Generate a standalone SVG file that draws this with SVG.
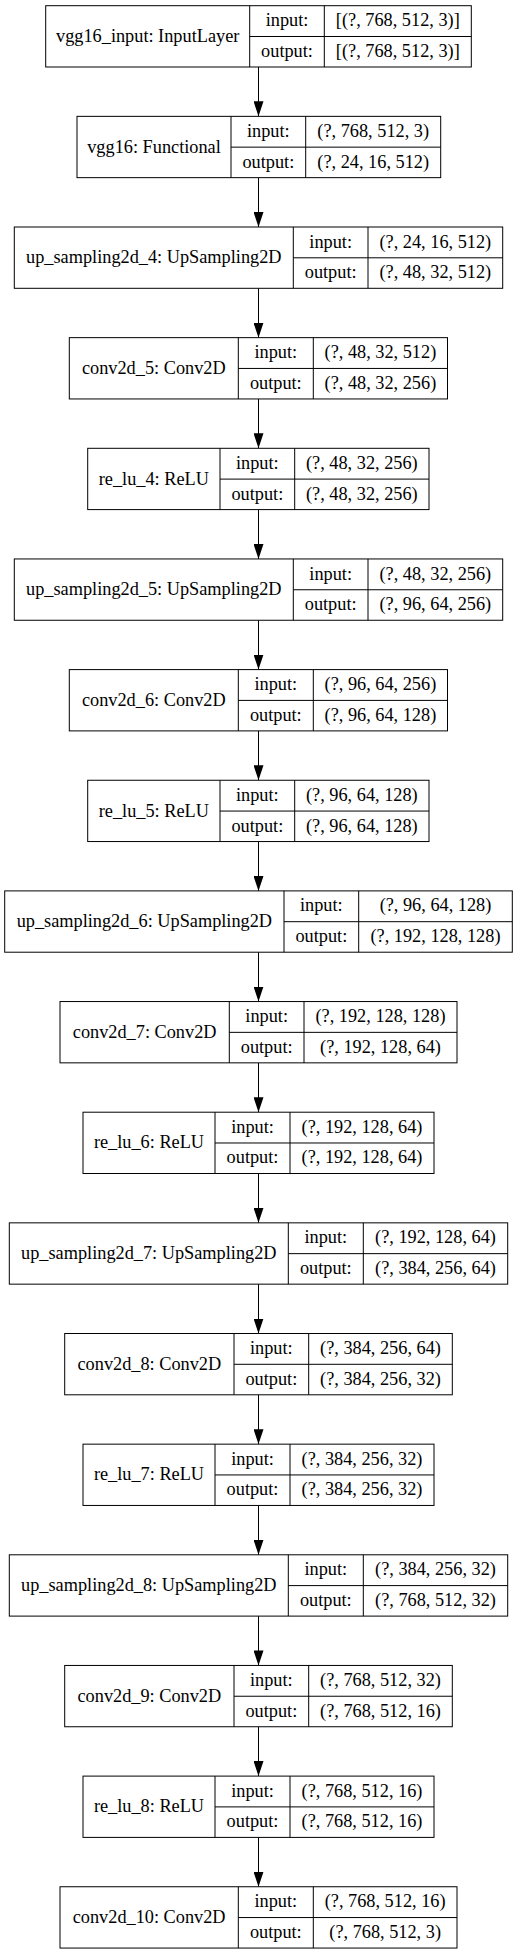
<svg xmlns="http://www.w3.org/2000/svg" width="517" height="1955" viewBox="0 0 517 1955">
<style>
.bg{fill:#fff}
.box{fill:#fff;stroke:#000;stroke-width:1}
.sep{stroke:#000;stroke-width:1;fill:none}
.edge{stroke:#000;stroke-width:1;fill:none;marker-end:url(#arr)}
text{font-family:'Liberation Serif','Times New Roman','DejaVu Serif',Times,serif;font-size:18.3px;text-anchor:middle;fill:#000}
</style>
<defs>
<marker id="arr" markerUnits="userSpaceOnUse" markerWidth="15" markerHeight="10" refX="15" refY="5" orient="auto">
<path d="M0,0 L15,5 L0,10 z" fill="#000"/>
</marker>
</defs>
<rect class="bg" x="0" y="0" width="517" height="1955"/>
<g id="connectors">
<line class="edge" x1="258.5" y1="67" x2="258.5" y2="116.35"/>
<line class="edge" x1="258.5" y1="177.65" x2="258.5" y2="227"/>
<line class="edge" x1="258.5" y1="288.3" x2="258.5" y2="337.65"/>
<line class="edge" x1="258.5" y1="398.95" x2="258.5" y2="448.3"/>
<line class="edge" x1="258.5" y1="509.6" x2="258.5" y2="558.95"/>
<line class="edge" x1="258.5" y1="620.25" x2="258.5" y2="669.6"/>
<line class="edge" x1="258.5" y1="730.9" x2="258.5" y2="780.25"/>
<line class="edge" x1="258.5" y1="841.55" x2="258.5" y2="890.9"/>
<line class="edge" x1="258.5" y1="952.2" x2="258.5" y2="1001.55"/>
<line class="edge" x1="258.5" y1="1062.85" x2="258.5" y2="1112.2"/>
<line class="edge" x1="258.5" y1="1173.5" x2="258.5" y2="1222.85"/>
<line class="edge" x1="258.5" y1="1284.15" x2="258.5" y2="1333.5"/>
<line class="edge" x1="258.5" y1="1394.8" x2="258.5" y2="1444.15"/>
<line class="edge" x1="258.5" y1="1505.45" x2="258.5" y2="1554.8"/>
<line class="edge" x1="258.5" y1="1616.1" x2="258.5" y2="1665.45"/>
<line class="edge" x1="258.5" y1="1726.75" x2="258.5" y2="1776.1"/>
<line class="edge" x1="258.5" y1="1837.4" x2="258.5" y2="1886.75"/>
</g>

<g id="vgg16_input" transform="translate(0,5.7)">
<rect class="box" x="45.7" y="0" width="425.6" height="61.3"/>
<path class="sep" d="M249.7,0V61.3M324.3,0V61.3M249.7,30.8H471.3"/>
<text x="147.7" y="36.3">vgg16_input: InputLayer</text>
<text x="287" y="20.6">input:</text>
<text x="287" y="51.3">output:</text>
<text x="397.8" y="20.6">[(?, 768, 512, 3)]</text>
<text x="397.8" y="51.3">[(?, 768, 512, 3)]</text>
</g>

<g id="vgg16" transform="translate(0,116.35)">
<rect class="box" x="77" y="0" width="363.7" height="61.3"/>
<path class="sep" d="M231,0V61.3M305.7,0V61.3M231,30.8H440.7"/>
<text x="154" y="36.3">vgg16: Functional</text>
<text x="268.35" y="20.6">input:</text>
<text x="268.35" y="51.3">output:</text>
<text x="373.2" y="20.6">(?, 768, 512, 3)</text>
<text x="373.2" y="51.3">(?, 24, 16, 512)</text>
</g>

<g id="up_sampling2d_4" transform="translate(0,227)">
<rect class="box" x="14.3" y="0" width="488.4" height="61.3"/>
<path class="sep" d="M293.3,0V61.3M368,0V61.3M293.3,30.8H502.7"/>
<text x="153.8" y="36.3">up_sampling2d_4: UpSampling2D</text>
<text x="330.65" y="20.6">input:</text>
<text x="330.65" y="51.3">output:</text>
<text x="435.35" y="20.6">(?, 24, 16, 512)</text>
<text x="435.35" y="51.3">(?, 48, 32, 512)</text>
</g>

<g id="conv2d_5" transform="translate(0,337.65)">
<rect class="box" x="69.3" y="0" width="378.2" height="61.3"/>
<path class="sep" d="M238.3,0V61.3M313.3,0V61.3M238.3,30.8H447.5"/>
<text x="153.8" y="36.3">conv2d_5: Conv2D</text>
<text x="275.8" y="20.6">input:</text>
<text x="275.8" y="51.3">output:</text>
<text x="380.4" y="20.6">(?, 48, 32, 512)</text>
<text x="380.4" y="51.3">(?, 48, 32, 256)</text>
</g>

<g id="re_lu_4" transform="translate(0,448.3)">
<rect class="box" x="87.7" y="0" width="341.3" height="61.3"/>
<path class="sep" d="M220,0V61.3M294.7,0V61.3M220,30.8H429"/>
<text x="153.85" y="36.3">re_lu_4: ReLU</text>
<text x="257.35" y="20.6">input:</text>
<text x="257.35" y="51.3">output:</text>
<text x="361.85" y="20.6">(?, 48, 32, 256)</text>
<text x="361.85" y="51.3">(?, 48, 32, 256)</text>
</g>

<g id="up_sampling2d_5" transform="translate(0,558.95)">
<rect class="box" x="14.3" y="0" width="488.4" height="61.3"/>
<path class="sep" d="M293.3,0V61.3M368,0V61.3M293.3,30.8H502.7"/>
<text x="153.8" y="36.3">up_sampling2d_5: UpSampling2D</text>
<text x="330.65" y="20.6">input:</text>
<text x="330.65" y="51.3">output:</text>
<text x="435.35" y="20.6">(?, 48, 32, 256)</text>
<text x="435.35" y="51.3">(?, 96, 64, 256)</text>
</g>

<g id="conv2d_6" transform="translate(0,669.6)">
<rect class="box" x="69.3" y="0" width="378.2" height="61.3"/>
<path class="sep" d="M238.3,0V61.3M313.3,0V61.3M238.3,30.8H447.5"/>
<text x="153.8" y="36.3">conv2d_6: Conv2D</text>
<text x="275.8" y="20.6">input:</text>
<text x="275.8" y="51.3">output:</text>
<text x="380.4" y="20.6">(?, 96, 64, 256)</text>
<text x="380.4" y="51.3">(?, 96, 64, 128)</text>
</g>

<g id="re_lu_5" transform="translate(0,780.25)">
<rect class="box" x="87.7" y="0" width="341.3" height="61.3"/>
<path class="sep" d="M220,0V61.3M294.7,0V61.3M220,30.8H429"/>
<text x="153.85" y="36.3">re_lu_5: ReLU</text>
<text x="257.35" y="20.6">input:</text>
<text x="257.35" y="51.3">output:</text>
<text x="361.85" y="20.6">(?, 96, 64, 128)</text>
<text x="361.85" y="51.3">(?, 96, 64, 128)</text>
</g>

<g id="up_sampling2d_6" transform="translate(0,890.9)">
<rect class="box" x="4.7" y="0" width="507.6" height="61.3"/>
<path class="sep" d="M284,0V61.3M358.7,0V61.3M284,30.8H512.3"/>
<text x="144.35" y="36.3">up_sampling2d_6: UpSampling2D</text>
<text x="321.35" y="20.6">input:</text>
<text x="321.35" y="51.3">output:</text>
<text x="435.5" y="20.6">(?, 96, 64, 128)</text>
<text x="435.5" y="51.3">(?, 192, 128, 128)</text>
</g>

<g id="conv2d_7" transform="translate(0,1001.55)">
<rect class="box" x="60" y="0" width="397" height="61.3"/>
<path class="sep" d="M229.3,0V61.3M304,0V61.3M229.3,30.8H457"/>
<text x="144.65" y="36.3">conv2d_7: Conv2D</text>
<text x="266.65" y="20.6">input:</text>
<text x="266.65" y="51.3">output:</text>
<text x="380.5" y="20.6">(?, 192, 128, 128)</text>
<text x="380.5" y="51.3">(?, 192, 128, 64)</text>
</g>

<g id="re_lu_6" transform="translate(0,1112.2)">
<rect class="box" x="83" y="0" width="351" height="61.3"/>
<path class="sep" d="M215,0V61.3M290,0V61.3M215,30.8H434"/>
<text x="149" y="36.3">re_lu_6: ReLU</text>
<text x="252.5" y="20.6">input:</text>
<text x="252.5" y="51.3">output:</text>
<text x="362" y="20.6">(?, 192, 128, 64)</text>
<text x="362" y="51.3">(?, 192, 128, 64)</text>
</g>

<g id="up_sampling2d_7" transform="translate(0,1222.85)">
<rect class="box" x="9.3" y="0" width="498.4" height="61.3"/>
<path class="sep" d="M288.3,0V61.3M363.3,0V61.3M288.3,30.8H507.7"/>
<text x="148.8" y="36.3">up_sampling2d_7: UpSampling2D</text>
<text x="325.8" y="20.6">input:</text>
<text x="325.8" y="51.3">output:</text>
<text x="435.5" y="20.6">(?, 192, 128, 64)</text>
<text x="435.5" y="51.3">(?, 384, 256, 64)</text>
</g>

<g id="conv2d_8" transform="translate(0,1333.5)">
<rect class="box" x="64.7" y="0" width="387.6" height="61.3"/>
<path class="sep" d="M234,0V61.3M308.7,0V61.3M234,30.8H452.3"/>
<text x="149.35" y="36.3">conv2d_8: Conv2D</text>
<text x="271.35" y="20.6">input:</text>
<text x="271.35" y="51.3">output:</text>
<text x="380.5" y="20.6">(?, 384, 256, 64)</text>
<text x="380.5" y="51.3">(?, 384, 256, 32)</text>
</g>

<g id="re_lu_7" transform="translate(0,1444.15)">
<rect class="box" x="83" y="0" width="351" height="61.3"/>
<path class="sep" d="M215,0V61.3M290,0V61.3M215,30.8H434"/>
<text x="149" y="36.3">re_lu_7: ReLU</text>
<text x="252.5" y="20.6">input:</text>
<text x="252.5" y="51.3">output:</text>
<text x="362" y="20.6">(?, 384, 256, 32)</text>
<text x="362" y="51.3">(?, 384, 256, 32)</text>
</g>

<g id="up_sampling2d_8" transform="translate(0,1554.8)">
<rect class="box" x="9.3" y="0" width="498.4" height="61.3"/>
<path class="sep" d="M288.3,0V61.3M363.3,0V61.3M288.3,30.8H507.7"/>
<text x="148.8" y="36.3">up_sampling2d_8: UpSampling2D</text>
<text x="325.8" y="20.6">input:</text>
<text x="325.8" y="51.3">output:</text>
<text x="435.5" y="20.6">(?, 384, 256, 32)</text>
<text x="435.5" y="51.3">(?, 768, 512, 32)</text>
</g>

<g id="conv2d_9" transform="translate(0,1665.45)">
<rect class="box" x="64.7" y="0" width="387.6" height="61.3"/>
<path class="sep" d="M234,0V61.3M308.7,0V61.3M234,30.8H452.3"/>
<text x="149.35" y="36.3">conv2d_9: Conv2D</text>
<text x="271.35" y="20.6">input:</text>
<text x="271.35" y="51.3">output:</text>
<text x="380.5" y="20.6">(?, 768, 512, 32)</text>
<text x="380.5" y="51.3">(?, 768, 512, 16)</text>
</g>

<g id="re_lu_8" transform="translate(0,1776.1)">
<rect class="box" x="83" y="0" width="351" height="61.3"/>
<path class="sep" d="M215,0V61.3M290,0V61.3M215,30.8H434"/>
<text x="149" y="36.3">re_lu_8: ReLU</text>
<text x="252.5" y="20.6">input:</text>
<text x="252.5" y="51.3">output:</text>
<text x="362" y="20.6">(?, 768, 512, 16)</text>
<text x="362" y="51.3">(?, 768, 512, 16)</text>
</g>

<g id="conv2d_10" transform="translate(0,1886.75)">
<rect class="box" x="60" y="0" width="397" height="61.3"/>
<path class="sep" d="M238.3,0V61.3M313.3,0V61.3M238.3,30.8H457"/>
<text x="149.15" y="36.3">conv2d_10: Conv2D</text>
<text x="275.8" y="20.6">input:</text>
<text x="275.8" y="51.3">output:</text>
<text x="385.15" y="20.6">(?, 768, 512, 16)</text>
<text x="385.15" y="51.3">(?, 768, 512, 3)</text>
</g>
</svg>
